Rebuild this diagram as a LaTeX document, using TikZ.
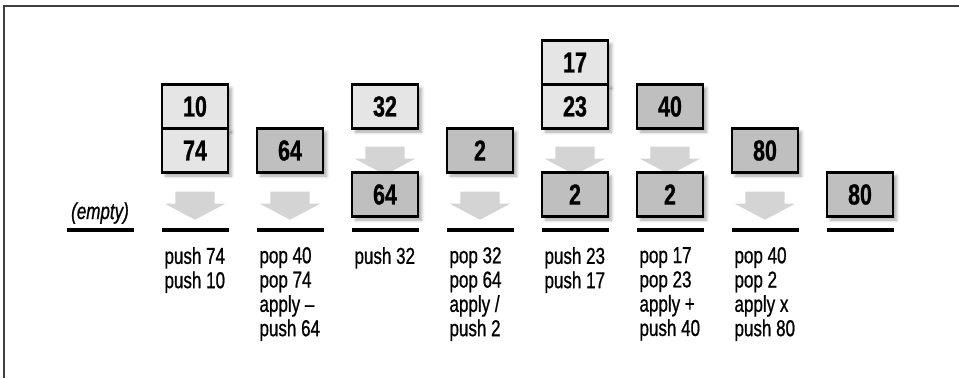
\documentclass[tikz,border=0pt]{standalone}
\usepackage{fontspec}
\setmainfont{Liberation Sans}[FakeStretch=0.74, FakeBold=0.8]
\usetikzlibrary{shapes.arrows, shadows.blur}

\begin{document}
\begin{tikzpicture}[x=1pt, y=1pt, node distance=44pt,
  cell/.style={rectangle, draw=black, line width=2.7pt, minimum width=66pt, minimum height=44pt, inner sep=0pt, font=\fontsize{29}{31}\selectfont\bfseries, blur shadow={shadow xshift=3.5pt, shadow yshift=-3.5pt, shadow blur radius=3pt, shadow opacity=35}},
  pushed/.style={cell, fill=black!10},
  computed/.style={cell, fill=black!25},
  flow/.style={single arrow, fill=black!17, shape border rotate=270, inner sep=0pt, minimum height=28pt, minimum width=60pt, single arrow head extend=10.5pt, single arrow head indent=0pt, single arrow tip angle=124},
  ground/.style={rectangle, fill=black, minimum width=67pt, minimum height=3.2pt, inner sep=0pt},
  ops/.style={anchor=north west, align=left, inner sep=0pt, font=\fontsize{23}{24.3}\selectfont}
]
\useasboundingbox (0,0) rectangle (959,-378);
\draw [line width=2pt, black!75] (4,-378) -- (4,-5.5) -- (959,-5.5);

% empty stack
\node (g0) [ground] at (100,-230) {};
\node (empty) [anchor=base, font=\fontsize{23}{24}\selectfont\itshape] at ([yshift=11pt]g0.center) {(empty)};

% push 74, push 10
\node (n10) [pushed] at (195,-106.5) {10};
\node (n74) [pushed, below of=n10] {74};
\node (f1) [flow, below of=n74, yshift=-6pt] {\rule{39pt}{0pt}};
\node (g1) [ground] at (195,-230) {};
\node (op1) [ops] at ([xshift=3pt, yshift=-17pt]g1.west) {push 74\\push 10};

% subtract
\node (n64) [computed] at (290,-150.5) {64};
\node (f2) [flow, below of=n64, yshift=-6pt] {\rule{39pt}{0pt}};
\node (g2) [ground] at (290,-230) {};
\node (op2) [ops] at ([xshift=3pt, yshift=-17pt]g2.west) {pop 40\\pop 74\\apply --\\push 64};

% push 32
\node (n32) [pushed] at (385,-106.5) {32};
\node (f3) [flow, below of=n32, yshift=-5pt] {\rule{39pt}{0pt}};
\node (n64b) [computed, below of=n32, node distance=88pt] {64};
\node (g3) [ground] at (385,-230) {};
\node (op3) [ops] at ([xshift=3pt, yshift=-17pt]g3.west) {push 32};

% divide
\node (n2) [computed] at (480,-150.5) {2};
\node (f4) [flow, below of=n2, yshift=-6pt] {\rule{39pt}{0pt}};
\node (g4) [ground] at (480,-230) {};
\node (op4) [ops] at ([xshift=3pt, yshift=-17pt]g4.west) {pop 32\\pop 64\\apply /\\push 2};

% push 23, push 17
\node (n17) [pushed] at (575,-62.5) {17};
\node (n23) [pushed, below of=n17] {23};
\node (f5) [flow, below of=n23, yshift=-5pt] {\rule{39pt}{0pt}};
\node (n2b) [computed, below of=n23, node distance=88pt] {2};
\node (g5) [ground] at (575,-230) {};
\node (op5) [ops] at ([xshift=3pt, yshift=-17pt]g5.west) {push 23\\push 17};

% add
\node (n40) [computed] at (670,-106.5) {40};
\node (f6) [flow, below of=n40, yshift=-5pt] {\rule{39pt}{0pt}};
\node (n2c) [computed, below of=n40, node distance=88pt] {2};
\node (g6) [ground] at (670,-230) {};
\node (op6) [ops] at ([xshift=3pt, yshift=-17pt]g6.west) {pop 17\\pop 23\\apply +\\push 40};

% multiply
\node (n80) [computed] at (765,-150.5) {80};
\node (f7) [flow, below of=n80, yshift=-6pt] {\rule{39pt}{0pt}};
\node (g7) [ground] at (765,-230) {};
\node (op7) [ops] at ([xshift=3pt, yshift=-17pt]g7.west) {pop 40\\pop 2\\apply x\\push 80};

% result
\node (n80b) [computed] at (860,-194.5) {80};
\node (g8) [ground] at (860,-230) {};

\end{tikzpicture}
\end{document}
